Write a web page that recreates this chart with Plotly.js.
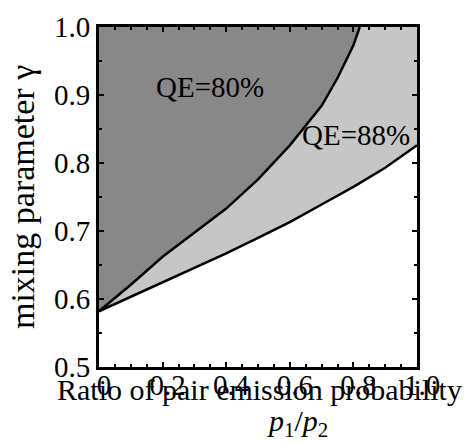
<!DOCTYPE html>
<html>
<head>
<meta charset="utf-8">
<script src="https://cdn.plot.ly/plotly-3.0.1.min.js"></script>
<style>html,body{margin:0;padding:0;background:#fff;}#chart{width:467px;height:443px;}</style>
</head>
<body>
<div id="chart"></div>
<script>
// Boundary of the QE=80% region (upper curve)
const upperP = [0, 0.1, 0.2, 0.3, 0.4, 0.5, 0.6, 0.7, 0.75, 0.8, 0.82];
const upperG = [0.582, 0.621, 0.662, 0.697, 0.733, 0.776, 0.826, 0.884, 0.925, 0.973, 1.0];
// Boundary of the QE=88% region (lower curve)
const lowerP = [0, 0.1, 0.2, 0.3, 0.4, 0.5, 0.6, 0.7, 0.8, 0.9, 1.0];
const lowerG = [0.582, 0.603, 0.624, 0.645, 0.667, 0.690, 0.713, 0.739, 0.765, 0.793, 0.826];
const xTickVals = [0, 0.2, 0.4, 0.6, 0.8, 1.0];
const xTickText = ['0', '0.2', '0.4', '0.6', '0.8', '1.0'];
const yTickVals = [0.5, 0.6, 0.7, 0.8, 0.9, 1.0];
const yTickText = ['0.5', '0.6', '0.7', '0.8', '0.9', '1.0'];
const xRange = [0, 1];
const yRange = [0.5, 1];

const serif = 'Liberation Serif, Times New Roman, serif';

// dark region: above upper curve
const darkX = upperP.concat([xRange[0]]);
const darkY = upperG.concat([yRange[1]]);
// light region: between curves
const lightX = lowerP.concat([xRange[1]], upperP.slice().reverse());
const lightY = lowerG.concat([yRange[1]], upperG.slice().reverse());

const traces = [
  {x: darkX, y: darkY, type: 'scatter', mode: 'lines', fill: 'toself',
   fillcolor: '#888888', line: {width: 0, color: 'rgba(0,0,0,0)'}, hoverinfo: 'skip', showlegend: false},
  {x: lightX, y: lightY, type: 'scatter', mode: 'lines', fill: 'toself',
   fillcolor: '#c6c6c6', line: {width: 0, color: 'rgba(0,0,0,0)'}, hoverinfo: 'skip', showlegend: false},
  {x: upperP, y: upperG, type: 'scatter', mode: 'lines', name: 'QE=80%',
   line: {color: '#000', width: 2.5}, showlegend: false},
  {x: lowerP, y: lowerG, type: 'scatter', mode: 'lines', name: 'QE=88%',
   line: {color: '#000', width: 2.5}, showlegend: false}
];

const layout = {
  width: 467, height: 443,
  margin: {l: 99, r: 50, t: 27, b: 76},
  paper_bgcolor: '#fff', plot_bgcolor: '#fff',
  showlegend: false,
  font: {family: serif, color: '#000'},
  xaxis: {
    range: xRange, tickvals: xTickVals, ticktext: xTickText,
    showgrid: false, zeroline: false,
    showline: true, linecolor: '#000', linewidth: 3, mirror: 'allticks',
    ticks: 'inside', ticklen: 5, tickwidth: 2, tickcolor: '#000',
    minor: {dtick: 0.05, ticks: 'inside', ticklen: 3, tickwidth: 2, tickcolor: '#000', showgrid: false},
    tickfont: {family: serif, size: 29, color: '#000'},
    ticklabelstandoff: -10,
    ticklabelshift: 5,
    fixedrange: true
  },
  yaxis: {
    range: yRange, tickvals: yTickVals, ticktext: yTickText,
    showgrid: false, zeroline: false,
    showline: true, linecolor: '#000', linewidth: 3, mirror: 'allticks',
    ticks: 'inside', ticklen: 5, tickwidth: 2, tickcolor: '#000',
    minor: {dtick: 0.05, ticks: 'inside', ticklen: 3, tickwidth: 2, tickcolor: '#000', showgrid: false},
    tickfont: {family: serif, size: 29, color: '#000'},
    fixedrange: true
  },
  annotations: [
    {text: 'QE=80%', x: 0.349, y: 0.912, xref: 'x', yref: 'y', showarrow: false,
     font: {family: serif, size: 29, color: '#000'}},
    {text: 'QE=88%', x: 0.808, y: 0.841, xref: 'x', yref: 'y', showarrow: false,
     font: {family: serif, size: 29, color: '#000'}},
    {text: 'Ratio of pair emission probability', x: 0.506, y: -0.066, xref: 'paper', yref: 'paper',
     xanchor: 'center', yanchor: 'middle', showarrow: false,
     font: {family: serif, size: 30, color: '#000'}},
    {text: '<i>p</i><sub>1</sub>/<i>p</i><sub>2</sub>', x: 0.623, y: -0.165, xref: 'paper', yref: 'paper',
     xanchor: 'center', yanchor: 'middle', showarrow: false,
     font: {family: serif, size: 30, color: '#000'}},
    {text: 'mixing parameter γ', x: -0.242, y: 0.5, xref: 'paper', yref: 'paper',
     xanchor: 'center', yanchor: 'middle', textangle: -90, showarrow: false,
     font: {family: serif, size: 34, color: '#000'}}
  ]
};

Plotly.newPlot('chart', traces, layout, {displayModeBar: false, staticPlot: true});
</script>
</body>
</html>
